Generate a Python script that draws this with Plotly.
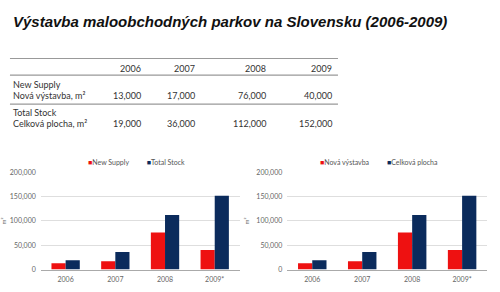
import plotly.graph_objects as go

years = ["2006", "2007", "2008", "2009"]
x_labels = ["2006", "2007", "2008", "2009*"]
new_supply = [13000, 17000, 76000, 40000]
total_stock = [19000, 36000, 112000, 152000]
y_ticks = [0, 50000, 100000, 150000, 200000]
legend_left = ["New Supply", "Total Stock"]
legend_right = ["Nová výstavba", "Celková plocha"]
row_labels = [("New Supply", "Nová výstavba, m²"), ("Total Stock", "Celková plocha, m²")]
title = "Výstavba maloobchodných parkov na Slovensku (2006-2009)"

RED = "#ee1111"
NAVY = "#0b2b5c"
W, H = 500, 292

def py(px):
    return 1 - px / H

def pxx(px):
    return px / W

fig = go.Figure()
for i, (xa, ya) in enumerate([("x", "y"), ("x2", "y2")]):
    fig.add_trace(go.Bar(x=x_labels, y=new_supply, marker_color=RED, xaxis=xa, yaxis=ya,
                         showlegend=False, marker_line_width=0))
    fig.add_trace(go.Bar(x=x_labels, y=total_stock, marker_color=NAVY, xaxis=xa, yaxis=ya,
                         showlegend=False, marker_line_width=0))

tick_text = [f"{v:,}" for v in y_ticks]
axis_font = dict(family="Lato, Open Sans, sans-serif", size=7, color="#666")
yax = dict(range=[0, 200000], tickvals=y_ticks, ticktext=tick_text, showgrid=True,
           gridcolor="#dedede", gridwidth=1, zeroline=False, showline=False,
           tickfont=axis_font, ticks="", ticklabelstandoff=4,
           domain=[py(272), py(172)],
           title=dict(text="m²", font=dict(family="Lato, sans-serif", size=6, color="#666"), standoff=6))
xax = dict(showline=True, linecolor="#aaa", linewidth=1, tickfont=axis_font, ticks="",
           showgrid=False, ticklabelstandoff=3)

annotations = []
shapes = []

fig.update_layout(
    width=W, height=H, margin=dict(l=0, r=0, t=0, b=0),
    paper_bgcolor="white", plot_bgcolor="white",
    barmode="group", bargap=0.43, bargroupgap=0,
    xaxis=dict(**xax, domain=[pxx(38), pxx(238)], anchor="y"),
    yaxis=dict(**yax, anchor="x"),
    xaxis2=dict(**xax, domain=[pxx(286), pxx(487)], anchor="y2"),
    yaxis2=dict(**yax, anchor="x2"),
)

# Title
annotations.append(dict(text=f"<b><i>{title}</i></b>", x=pxx(8), y=py(17), xref="paper", yref="paper",
                        xanchor="left", yanchor="middle", showarrow=False,
                        font=dict(family="Liberation Sans, Arial, sans-serif", size=15, color="#111")))

# Table
tfont = dict(family="Lato, Open Sans, sans-serif", size=9, color="#333")
for yline in [55, 72, 102]:
    shapes.append(dict(type="line", xref="paper", yref="paper", x0=pxx(7), x1=pxx(337),
                       y0=py(yline), y1=py(yline), line=dict(color="#999", width=1.2)))
col_right = [141, 195, 267, 333]
for yr, xr in zip(years, col_right):
    annotations.append(dict(text=yr, x=pxx(xr), y=py(65), xref="paper", yref="paper",
                            xanchor="right", yanchor="middle", showarrow=False, font=tfont))
row_y = [(82, 93), (111, 122)]
for (l1, l2), (y1, y2), vals in zip(row_labels, row_y, [new_supply, total_stock]):
    annotations.append(dict(text=l1, x=pxx(8), y=py(y1), xref="paper", yref="paper",
                            xanchor="left", yanchor="middle", showarrow=False, font=tfont))
    annotations.append(dict(text=l2, x=pxx(8), y=py(y2), xref="paper", yref="paper",
                            xanchor="left", yanchor="middle", showarrow=False, font=tfont))
    for v, xr in zip(vals, col_right):
        annotations.append(dict(text=f"{v:,}", x=pxx(xr), y=py(y2), xref="paper", yref="paper",
                                xanchor="right", yanchor="middle", showarrow=False, font=tfont))

# Legends
lfont = dict(family="Lato, Open Sans, sans-serif", size=7, color="#555")
def legend_text(names):
    return (f"<span style='color:{RED}'>■</span>{names[0]}"
            f"          <span style='color:{NAVY}'>■</span>{names[1]}")
annotations.append(dict(text=legend_text(legend_left), x=pxx(134), y=py(161), xref="paper", yref="paper",
                        xanchor="center", yanchor="middle", showarrow=False, font=lfont))
annotations.append(dict(text=legend_text(legend_right), x=pxx(378), y=py(161), xref="paper", yref="paper",
                        xanchor="center", yanchor="middle", showarrow=False, font=lfont))

fig.update_layout(annotations=annotations, shapes=shapes)
fig.write_html("out.html")
